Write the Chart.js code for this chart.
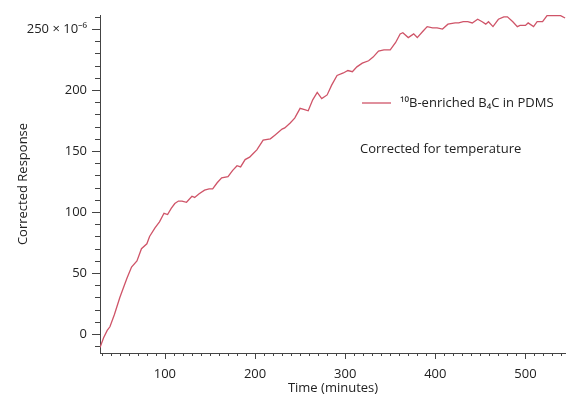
<!DOCTYPE html>
<html>
<head>
<meta charset="utf-8">
<script src="https://cdn.jsdelivr.net/npm/chart.js@4"></script>
<style>
  html, body { margin: 0; padding: 0; background: #fff; }
  #wrap { width: 566px; height: 396px; }
</style>
</head>
<body>
<div id="wrap"><canvas id="responseChart"></canvas></div>
<script>
// time in minutes and corrected response (x 10^-6)
const times = [28, 32, 36, 39, 44, 50, 55, 58, 63, 69, 74, 80, 83, 89, 94, 99, 103, 107, 111, 115,
  119, 124, 130, 133, 138, 144, 149, 153, 158, 163, 170, 175, 180, 184, 189, 194, 198, 202, 209, 217,
  222, 230, 233, 239, 244, 250, 255, 259, 264, 269, 274, 280, 285, 291, 298, 303, 308, 313, 319, 326,
  331, 337, 343, 350, 356, 361, 364, 370, 376, 380, 386, 391, 397, 402, 408, 414, 422, 426, 431, 436,
  441, 447, 452, 456, 459, 464, 470, 476, 480, 486, 491, 494, 500, 503, 509, 513, 519, 524, 530, 536,
  539, 544];
const response = [-11, -3, 3, 6, 16, 30, 40, 46, 55, 60, 70, 74, 80, 87, 92, 99, 98, 103, 107, 109,
  109, 108, 113, 112, 115, 118, 119, 119, 124, 128, 129, 134, 138, 137, 143, 145, 148, 151, 159, 160,
  163, 168, 169, 173, 177, 185, 184, 183, 192, 198, 193, 196, 204, 212, 214, 216, 215, 219, 222, 224,
  227, 232, 233, 233, 239, 246, 247, 243, 246, 243, 248, 252, 251, 251, 250, 254, 255, 255, 256, 256,
  255, 258, 256, 254, 256, 252, 258, 260, 260, 256, 252, 253, 253, 255, 252, 256, 256, 261, 261, 261,
  261, 259];
const seriesName = '¹⁰B-enriched B₄C in PDMS';
const note = 'Corrected for temperature';

const lineColor = '#cf5468';
const axisColor = '#444';
const textColor = '#222';
const fontFamily = "'Open Sans', 'Noto Sans', sans-serif";

// tick marks (major + minor every 10) and the in-plot legend
const decorPlugin = {
  id: 'decor',
  afterDraw(chart) {
    const ctx = chart.ctx;
    const xs = chart.scales.x, ys = chart.scales.y;
    const area = chart.chartArea;
    ctx.save();
    ctx.strokeStyle = axisColor;
    ctx.lineWidth = 1;
    ctx.beginPath();
    for (let v = Math.ceil(ys.min / 10) * 10; v <= ys.max; v += 10) {
      const py = Math.round(ys.getPixelForValue(v)) + 0.5;
      const len = v % 50 === 0 ? 8 : 5;
      ctx.moveTo(area.left - len, py);
      ctx.lineTo(area.left, py);
    }
    for (let v = Math.ceil(xs.min / 10) * 10; v <= xs.max; v += 10) {
      const px = Math.round(xs.getPixelForValue(v)) + 0.5;
      const len = v % 100 === 0 ? 6 : 3;
      ctx.moveTo(px, area.bottom);
      ctx.lineTo(px, area.bottom + len);
    }
    ctx.stroke();

    // legend
    const lx = area.left + 262, ly = area.top + 88;
    ctx.strokeStyle = lineColor;
    ctx.lineWidth = 1.3;
    ctx.beginPath();
    ctx.moveTo(lx, ly);
    ctx.lineTo(lx + 29, ly);
    ctx.stroke();
    ctx.fillStyle = textColor;
    ctx.font = '13px ' + fontFamily;
    ctx.textBaseline = 'middle';
    ctx.textAlign = 'left';
    ctx.fillText(seriesName, lx + 38, ly);
    ctx.fillText(note, area.left + 260, area.top + 134);
    ctx.restore();
  }
};

new Chart(document.getElementById('responseChart'), {
  type: 'line',
  data: {
    datasets: [{
      label: seriesName,
      data: times.map((t, i) => ({ x: t, y: response[i] })),
      borderColor: lineColor,
      borderWidth: 1.3,
      pointRadius: 0,
      tension: 0,
      fill: false
    }]
  },
  options: {
    responsive: true,
    maintainAspectRatio: false,
    animation: false,
    layout: { padding: { top: 15, right: 0, left: 0, bottom: 0 } },
    plugins: {
      legend: { display: false },
      tooltip: { enabled: false }
    },
    scales: {
      x: {
        type: 'linear',
        min: 28,
        max: 545,
        // grid hidden; tickLength only reserves the gap for the labels
        grid: { display: false, drawTicks: true, tickLength: 13 },
        border: { display: true, color: axisColor, width: 1 },
        ticks: {
          stepSize: 100,
          includeBounds: false,
          autoSkip: false,
          maxRotation: 0,
          padding: 0,
          color: textColor,
          font: { family: fontFamily, size: 13 }
        },
        title: {
          display: true,
          text: 'Time (minutes)',
          color: textColor,
          font: { family: fontFamily, size: 13 },
          padding: { top: 0, bottom: 0 }
        },
        afterFit: s => { s.height = 43; }
      },
      y: {
        min: -15.5,
        max: 261.5,
        grid: { display: false, drawTicks: true, tickLength: 13 },
        border: { display: true, color: axisColor, width: 1 },
        ticks: {
          stepSize: 50,
          includeBounds: false,
          autoSkip: false,
          padding: 0,
          color: textColor,
          font: { family: fontFamily, size: 13 },
          callback: v => (v === 250 ? '250 × 10⁻⁶' : String(v))
        },
        title: {
          display: true,
          text: 'Corrected Response',
          color: textColor,
          font: { family: fontFamily, size: 13 },
          padding: { top: 15, bottom: 0 }
        },
        afterFit: s => { s.width = 100; }
      }
    }
  },
  plugins: [decorPlugin]
});
</script>
</body>
</html>
